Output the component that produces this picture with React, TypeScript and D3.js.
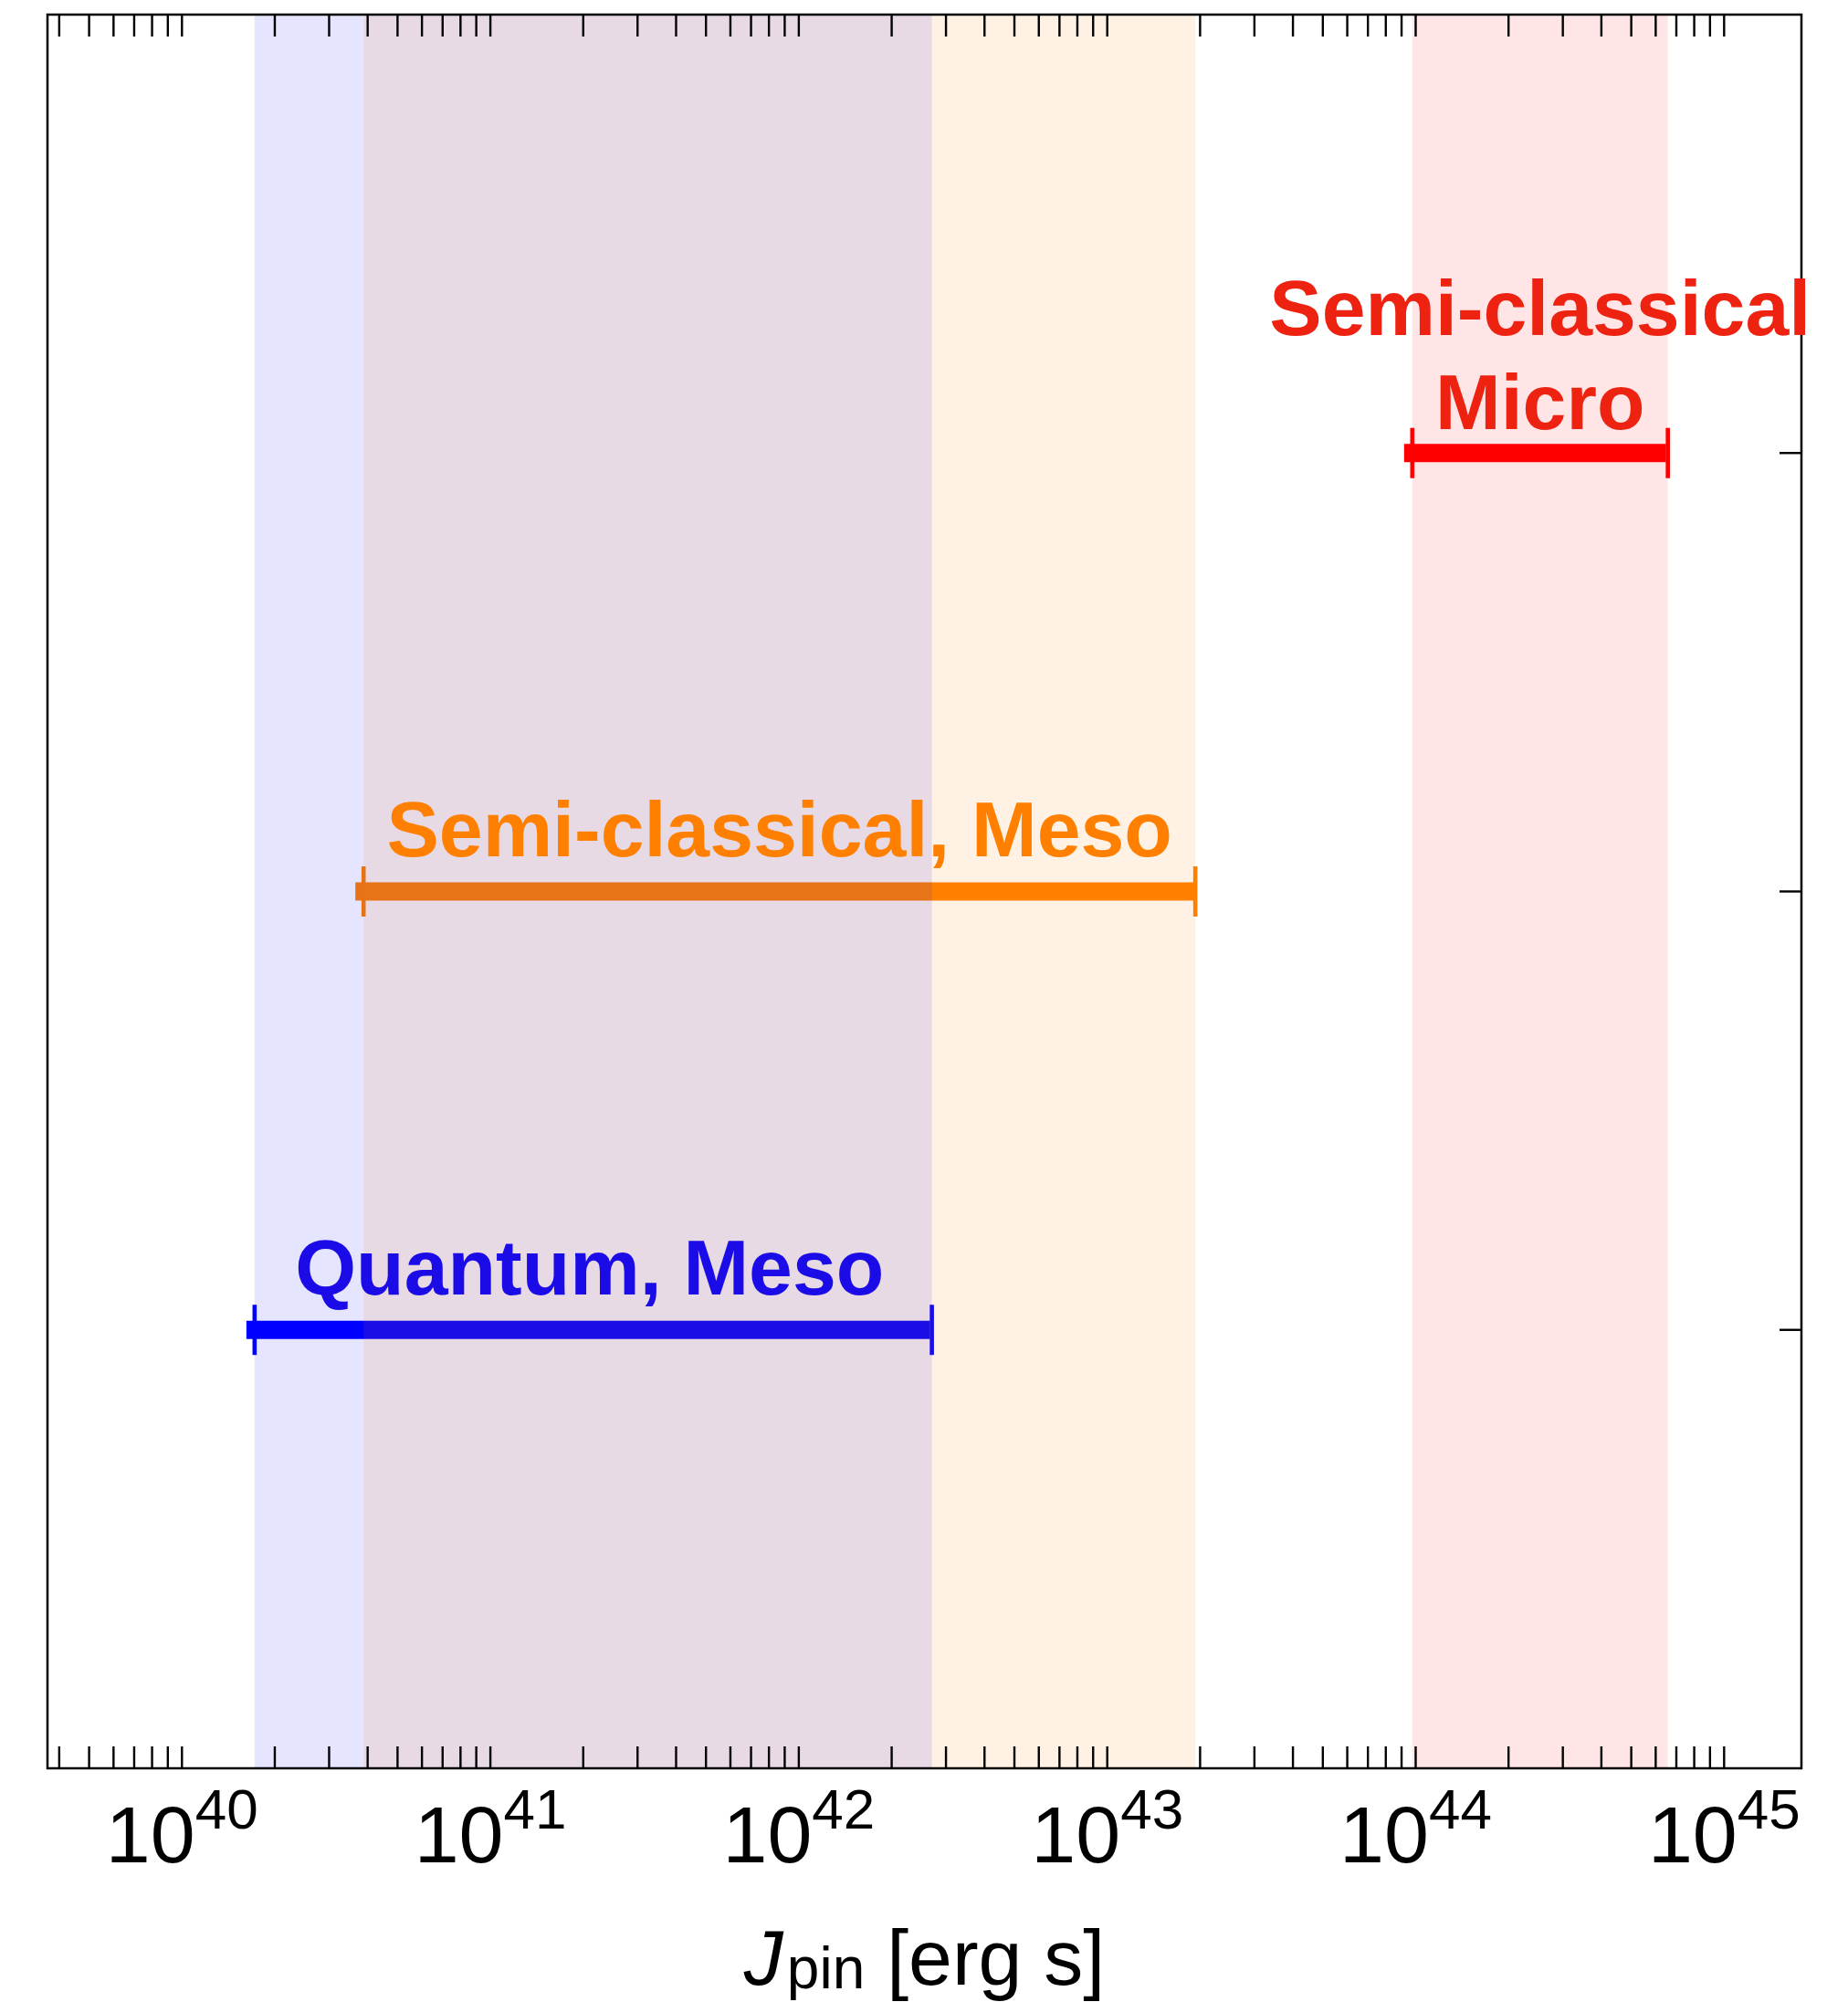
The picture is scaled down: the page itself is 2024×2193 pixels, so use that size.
import React from "react";
import * as d3 from "d3";

// ---- data ----
const regimes = ["Quantum, Meso", "Semi-classical, Meso", "Semi-classical Micro"];
const regimeRow = [1, 2, 3];
const rangeLow = [1.72e40, 3.88e40, 9.75e43];
const rangeHigh = [2.7e42, 1.93e43, 6.57e44];
const barColors = ["#0000ff", "#ff8000", "#ff0000"];
const textColors = ["#1b0be6", "#ff8000", "#ee2211"];
const labelLines = [["Quantum, Meso"], ["Semi-classical, Meso"], ["Semi-classical", "Micro"]];
const xDomainExp = [39.564, 45.2507];
const yTickValues = [1, 2, 3];
const xLabelMain = "J";
const xLabelSub = "pin";
const xLabelUnit = " [erg s]";

const W = 2024;
const H = 2193;
const M = { left: 52, right: 1973, top: 16, bottom: 1937 };

export default function App() {
  const x = d3
    .scaleLog()
    .domain([Math.pow(10, xDomainExp[0]), Math.pow(10, xDomainExp[1])])
    .range([M.left, M.right]);
  const y = d3.scaleLinear().domain([0, 4]).range([M.bottom, M.top]);

  const ticks = x.ticks().filter((t) => x(t) >= M.left + 1 && x(t) <= M.right - 1);
  const majors = ticks.filter((t) => Math.abs(Math.log10(t) - Math.round(Math.log10(t))) < 1e-9);
  const tickLen = 24;
  const font = "'Liberation Sans', Arial, Helvetica, sans-serif";

  const bandOrder = [0, 1, 2];
  const labelShift = [-4, 0, 0];

  return (
    <svg
      width={W}
      height={H}
      style={{ position: "absolute", left: 0, top: 0, background: "#fff" }}
      fontFamily={font}
    >
      <rect x={0} y={0} width={W} height={H} fill="#fff" />
      {/* error bars (drawn under bands) */}
      {regimes.map((r, i) => {
        const x0 = x(rangeLow[i]);
        const x1 = x(rangeHigh[i]);
        const yc = y(regimeRow[i]);
        return (
          <g key={"bar" + i}>
            <rect x={x0 - 9} y={yc - 10} width={x1 - 2 - (x0 - 9)} height={20} fill={barColors[i]} />
            <rect x={x0 - 2.3} y={yc - 27.5} width={4.6} height={55} fill={barColors[i]} />
            <rect x={x1 - 2.3} y={yc - 27.5} width={4.6} height={55} fill={barColors[i]} />
          </g>
        );
      })}
      {/* shaded bands */}
      {bandOrder.map((i) => (
        <rect
          key={"band" + i}
          x={x(rangeLow[i])}
          y={M.top}
          width={x(rangeHigh[i]) - x(rangeLow[i])}
          height={M.bottom - M.top}
          fill={barColors[i]}
          fillOpacity={0.1}
        />
      ))}
      {/* frame */}
      <rect
        x={M.left}
        y={M.top}
        width={M.right - M.left}
        height={M.bottom - M.top}
        fill="none"
        stroke="#000"
        strokeWidth={2.5}
      />
      {/* x ticks top and bottom */}
      {ticks.map((t, k) => (
        <g key={"t" + k} stroke="#000" strokeWidth={2.4}>
          <line x1={x(t)} x2={x(t)} y1={M.bottom} y2={M.bottom - tickLen} />
          <line x1={x(t)} x2={x(t)} y1={M.top} y2={M.top + tickLen} />
        </g>
      ))}
      {/* right y ticks */}
      {yTickValues.map((v) => (
        <line
          key={"yt" + v}
          x1={M.right}
          x2={M.right - tickLen}
          y1={y(v)}
          y2={y(v)}
          stroke="#000"
          strokeWidth={2.4}
        />
      ))}
      {/* x tick labels */}
      {majors.map((t) => (
        <text key={"l" + t} x={x(t)} y={2040} textAnchor="middle" fontSize={88} fill="#000">
          <tspan>10</tspan>
          <tspan fontSize={62} dy={-37}>
            {Math.round(Math.log10(t))}
          </tspan>
        </text>
      ))}
      {/* x label */}
      <text x={(M.left + M.right) / 2} y={2174} textAnchor="middle" fontSize={86} fill="#000">
        <tspan fontStyle="italic">{xLabelMain}</tspan>
        <tspan fontSize={64} dy={4} dx={4}>
          {xLabelSub}
        </tspan>
        <tspan dy={-4}>{xLabelUnit}</tspan>
      </text>
      {/* regime labels */}
      {regimes.map((r, i) => {
        const cx = (x(rangeLow[i]) + x(rangeHigh[i])) / 2 + labelShift[i];
        const yc = y(regimeRow[i]);
        const lines = labelLines[i];
        const lastBase = lines.length > 1 ? yc - 26.5 : yc - 39;
        return (
          <text
            key={"lab" + i}
            textAnchor="middle"
            fontSize={86}
            fontWeight="bold"
            fill={textColors[i]}
          >
            {lines.map((ln, j) => (
              <tspan key={j} x={cx} y={lastBase - (lines.length - 1 - j) * 103}>
                {ln}
              </tspan>
            ))}
          </text>
        );
      })}
    </svg>
  );
}
